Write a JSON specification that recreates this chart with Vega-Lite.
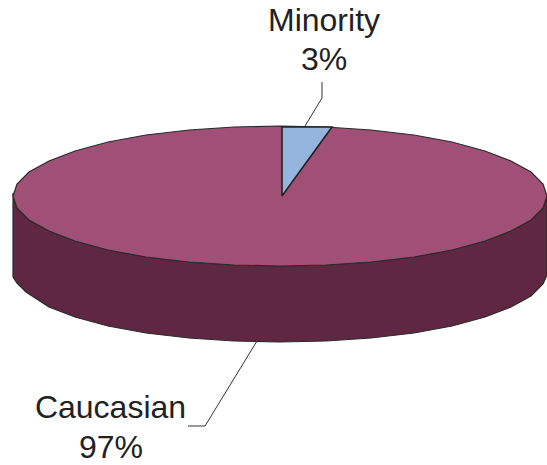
{"$schema":"https://vega.github.io/schema/vega-lite/v6.json","width":547,"height":465,"padding":0,"autosize":{"type":"none"},"background":"white","config":{"view":{"stroke":null}},
"datasets":{
"wall":[{"i":0,"x":13,"y":193},{"i":1,"x":17,"y":208},{"i":2,"x":29,"y":220},{"i":3,"x":49,"y":231},{"i":4,"x":75,"y":241},{"i":5,"x":108,"y":250},{"i":6,"x":146,"y":257},{"i":7,"x":189,"y":262},{"i":8,"x":234,"y":265},{"i":9,"x":280,"y":266},{"i":10,"x":326,"y":265},{"i":11,"x":371,"y":262},{"i":12,"x":414,"y":257},{"i":13,"x":452,"y":250},{"i":14,"x":485,"y":241},{"i":15,"x":511,"y":231},{"i":16,"x":531,"y":220},{"i":17,"x":543,"y":208},{"i":18,"x":547,"y":196},{"i":19,"x":547,"y":275},{"i":20,"x":543,"y":284},{"i":21,"x":531,"y":296},{"i":22,"x":511,"y":307},{"i":23,"x":485,"y":317},{"i":24,"x":452,"y":326},{"i":25,"x":414,"y":333},{"i":26,"x":371,"y":338},{"i":27,"x":326,"y":341},{"i":28,"x":280,"y":342},{"i":29,"x":234,"y":341},{"i":30,"x":189,"y":338},{"i":31,"x":146,"y":333},{"i":32,"x":108,"y":326},{"i":33,"x":75,"y":317},{"i":34,"x":49,"y":307},{"i":35,"x":26,"y":292},{"i":36,"x":17,"y":283},{"i":37,"x":13,"y":277},{"i":38,"x":13,"y":193}],
"top":[{"i":0,"x":547,"y":196},{"i":1,"x":543,"y":184},{"i":2,"x":531,"y":172},{"i":3,"x":511,"y":161},{"i":4,"x":485,"y":151},{"i":5,"x":452,"y":142},{"i":6,"x":414,"y":135},{"i":7,"x":371,"y":130},{"i":8,"x":326,"y":127},{"i":9,"x":280,"y":126},{"i":10,"x":234,"y":127},{"i":11,"x":189,"y":130},{"i":12,"x":146,"y":135},{"i":13,"x":108,"y":142},{"i":14,"x":75,"y":151},{"i":15,"x":49,"y":161},{"i":16,"x":29,"y":172},{"i":17,"x":17,"y":184},{"i":18,"x":13,"y":196},{"i":19,"x":17,"y":208},{"i":20,"x":29,"y":220},{"i":21,"x":49,"y":231},{"i":22,"x":75,"y":241},{"i":23,"x":108,"y":250},{"i":24,"x":146,"y":257},{"i":25,"x":189,"y":262},{"i":26,"x":234,"y":265},{"i":27,"x":280,"y":266},{"i":28,"x":326,"y":265},{"i":29,"x":371,"y":262},{"i":30,"x":414,"y":257},{"i":31,"x":452,"y":250},{"i":32,"x":485,"y":241},{"i":33,"x":511,"y":231},{"i":34,"x":531,"y":220},{"i":35,"x":543,"y":208},{"i":36,"x":547,"y":196}],
"wedge":[{"i":0,"x":282,"y":196},{"i":1,"x":282,"y":127},{"i":2,"x":332,"y":127},{"i":3,"x":282,"y":196}],
"leaders":[{"k":"Minority","i":0,"x":322,"y":82},{"k":"Minority","i":1,"x":322,"y":98},{"k":"Minority","i":2,"x":305,"y":126},{"k":"Caucasian","i":0,"x":257,"y":341},{"k":"Caucasian","i":1,"x":205,"y":426},{"k":"Caucasian","i":2,"x":188,"y":426}],
"labels":[{"t":"Minority","x":324,"y":31},{"t":"3%","x":324,"y":70},{"t":"Caucasian","x":110.5,"y":418},{"t":"97%","x":111,"y":458}]
},
"encoding":{"x":{"field":"x","type":"quantitative","scale":{"domain":[0,547],"range":[0,547],"nice":false,"zero":false},"axis":null},"y":{"field":"y","type":"quantitative","scale":{"domain":[0,465],"range":[0,465],"nice":false,"zero":false},"axis":null}},
"layer":[
{"data":{"name":"wall"},"mark":{"type":"line","fill":"#5F2742","stroke":"#2a2a2a","strokeWidth":1.2},"encoding":{"order":{"field":"i","type":"quantitative"}}},
{"data":{"name":"top"},"mark":{"type":"line","fill":"#A05076","stroke":"#2a2a2a","strokeWidth":1.2},"encoding":{"order":{"field":"i","type":"quantitative"}}},
{"data":{"name":"wedge"},"mark":{"type":"line","fill":"#95B5DF","stroke":"#222222","strokeWidth":1.6},"encoding":{"order":{"field":"i","type":"quantitative"}}},
{"data":{"name":"leaders"},"mark":{"type":"line","stroke":"#333333","strokeWidth":1},"encoding":{"detail":{"field":"k"},"order":{"field":"i","type":"quantitative"}}},
{"data":{"name":"labels"},"mark":{"type":"text","font":"Liberation Sans","fontSize":32,"align":"center","baseline":"alphabetic","fill":"#222222"},"encoding":{"text":{"field":"t"}}}
]}
